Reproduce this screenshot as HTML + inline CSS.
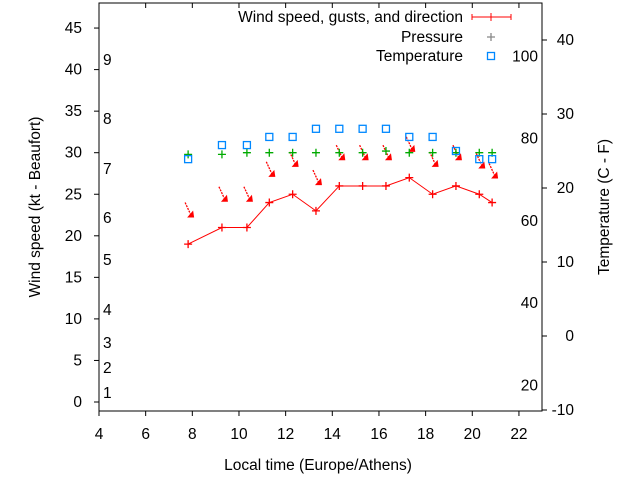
<!DOCTYPE html>
<html><head><meta charset="utf-8"><style>body{margin:0;background:#fff}svg text{font-family:"Liberation Sans",sans-serif;font-size:15.5px}</style></head>
<body>
<svg id="c" width="640" height="480"></svg>
<script>
const times=[7.82,9.27,10.34,11.3,12.3,13.3,14.3,15.3,16.3,17.3,18.3,19.3,20.3,20.85];
const windSpeed=[19,21,21,24,25,23,26,26,26,27,25,26,25,24];
const gusts=[22.8,24.7,24.7,27.7,28.9,26.7,29.7,29.7,29.7,30.7,28.9,29.7,28.7,27.5];
const pressure=[29.8,29.8,30,30,30,30,30,30,30.2,30,30,30,30,30];
const tempC=[23.9,25.8,25.8,26.9,26.9,28,28,28,28,26.9,26.9,25,23.9,23.9];
const xTicks=[4,6,8,10,12,14,16,18,20,22];
const yTicks=[0,5,10,15,20,25,30,35,40,45];
const cTicks=[-10,0,10,20,30,40];
const fLabels=[20,40,60,80,100];
const bft=[[1,393],[2,368],[3,343],[4,310],[5,260],[6,218],[7,169],[8,119],[9,60]];
const X=v=>99+(v-4)*23.33, Y=v=>402-v*8.31, YC=v=>336-v*7.4, YF=f=>YC((f-32)*5/9);
const L=99,R=542,T=3,B=411;
const s=document.getElementById('c');const NS='http://www.w3.org/2000/svg';
function el(t,a,txt){const e=document.createElementNS(NS,t);for(const k in a)e.setAttribute(k,a[k]);if(txt!=null)e.textContent=txt;s.appendChild(e);return e;}
let e;
e=el('rect',{x:L,y:T,width:R-L,height:B-T,fill:'none',stroke:'#000'});


xTicks.forEach(t=>{el('line',{x1:X(t),x2:X(t),y1:B,y2:B+5,stroke:'#000'});el('line',{x1:X(t),x2:X(t),y1:T,y2:T+5,stroke:'#000'});
e=el('text',{x:X(t),y:439,'text-anchor':'middle'},t);

});
yTicks.forEach(t=>{el('line',{x1:L-5,x2:L,y1:Y(t),y2:Y(t),stroke:'#000'});
e=el('text',{x:82,y:Y(t)+5,'text-anchor':'end'},t);

});
cTicks.forEach(t=>{el('line',{x1:R,x2:R+5,y1:YC(t),y2:YC(t),stroke:'#000'});
e=el('text',{x:574,y:YC(t)+5,'text-anchor':'end'},t);

});
fLabels.forEach(t=>{e=el('text',{x:538,y:YF(t)+5,'text-anchor':'end'},t);

});
bft.forEach(b=>{e=el('text',{x:103,y:b[1]+5},b[0]);

});
e=el('text',{x:318,y:470,'text-anchor':'middle'},'Local time (Europe/Athens)');


e=el('text',{x:0,y:0,'text-anchor':'middle',transform:'translate(40,207) rotate(-90)'},'Wind speed (kt - Beaufort)');


e=el('text',{x:0,y:0,'text-anchor':'middle',transform:'translate(609,207) rotate(-90)'},'Temperature (C - F)');


e=el('polyline',{points:times.map((t,i)=>X(t)+','+Y(windSpeed[i])).join(' '),fill:'none',stroke:'#f00'});


function plus(x,y,c,n){e=el('path',{d:`M${x-4},${y}h8M${x},${y-4}v8`,stroke:c,'stroke-width':1.3});

}
times.forEach((t,i)=>{
plus(X(t),Y(windSpeed[i]),'#f00','wind-point');
const x=X(t)+3,y=Y(gusts[i])+3;
e=el('g',{});


const l=document.createElementNS(NS,'path');l.setAttribute('d',`M${x-6},${y-13}L${x},${y}`);l.setAttribute('stroke','#f00');l.setAttribute('stroke-width','1.3');l.setAttribute('stroke-dasharray','2,1');e.appendChild(l);
const h=document.createElementNS(NS,'path');h.setAttribute('d',`M${x+3},${y+2}L${x-4},${y+2}L${x+2},${y-5}Z`);h.setAttribute('fill','#f00');e.appendChild(h);
plus(X(t),Y(pressure[i]),'#0a0','pressure-point');
e=el('rect',{x:X(t)-3.5,y:YC(tempC[i])-3.5,width:7,height:7,fill:'none',stroke:'#08f','stroke-width':1.3});


});
e=el('text',{x:463,y:22,'text-anchor':'end'},'Wind speed, gusts, and direction');


el('path',{d:'M472,17H511M472,14v6M511,14v6M491,13v8',stroke:'#f00','stroke-width':1});
e=el('text',{x:463,y:42,'text-anchor':'end'},'Pressure');


plus(491,37,'#888','legend-pressure-marker');
e=el('text',{x:463,y:61,'text-anchor':'end'},'Temperature');


e=el('rect',{x:487.5,y:52.5,width:7,height:7,fill:'none',stroke:'#08f','stroke-width':1.3});


</script>
</body></html>
